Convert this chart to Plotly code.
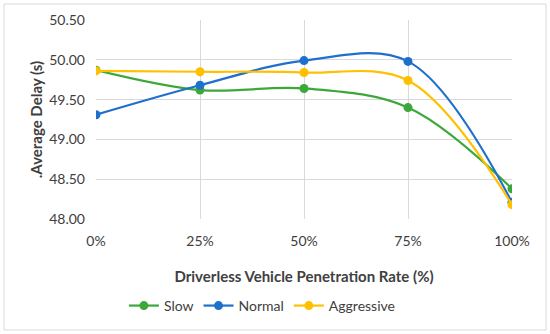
import plotly.graph_objects as go

categories = ["0%", "25%", "50%", "75%", "100%"]
slow = [49.87, 49.62, 49.64, 49.40, 48.38]
normal = [49.31, 49.68, 49.99, 49.98, 48.21]
aggressive = [49.86, 49.85, 49.84, 49.74, 48.18]
y_ticks = [48.0, 48.5, 49.0, 49.5, 50.0, 50.5]
y_ticklabels = ["48.00", "48.50", "49.00", "49.50", "50.00", "50.50"]

FONT = "Lato, 'Open Sans', sans-serif"
series = [("Slow", slow, "#3DA83A"), ("Normal", normal, "#1F70CC"), ("Aggressive", aggressive, "#FFC000")]

fig = go.Figure()
for name, vals, col in series:
    fig.add_trace(go.Scatter(
        x=categories, y=vals, name=name, mode="lines+markers",
        line=dict(color=col, width=2.2, shape="spline", smoothing=1.0),
        marker=dict(color=col, size=9),
    ))

fig.update_layout(
    width=550, height=334,
    margin=dict(l=96, r=38, t=20, b=115, autoexpand=False),
    paper_bgcolor="white", plot_bgcolor="white",
    font=dict(family=FONT, size=14, color="#404040"),
    showlegend=True,
    legend=dict(orientation="h", x=0.40, xanchor="center", y=-0.437, yanchor="middle",
                font=dict(size=14, color="#404040"), itemwidth=30, tracegroupgap=0),
    xaxis=dict(
        type="category", range=[0, 4], showgrid=True, gridcolor="#D9D9D9", gridwidth=1,
        zeroline=False, showline=False, ticks="", ticklabelstandoff=12, automargin=False,
        tickfont=dict(size=14, color="#404040"),
        title=dict(text="<b>Driverless Vehicle Penetration Rate (%)</b>", font=dict(size=15, color="#404040"), standoff=23),
    ),
    yaxis=dict(
        range=[48.0, 50.5], tickvals=y_ticks, ticktext=y_ticklabels,
        showgrid=True, gridcolor="#D9D9D9", gridwidth=1, zeroline=False, showline=False,
        ticks="", tickfont=dict(size=14, color="#404040"), ticklabelstandoff=10, automargin=False,
        title=dict(text="<b>.Average Delay (s)</b>", font=dict(size=15, color="#404040"), standoff=2),
    ),
    shapes=[dict(type="rect", xref="paper", yref="paper",
                 x0=-92/416, x1=1 + 34/416, y0=-111/199, y1=1 + 16/199,
                 line=dict(color="#D9D9D9", width=1), fillcolor="rgba(0,0,0,0)", layer="below")],
)

fig.write_html("out.html", config={"displayModeBar": False},
               post_script="document.body.style.margin='0';")
